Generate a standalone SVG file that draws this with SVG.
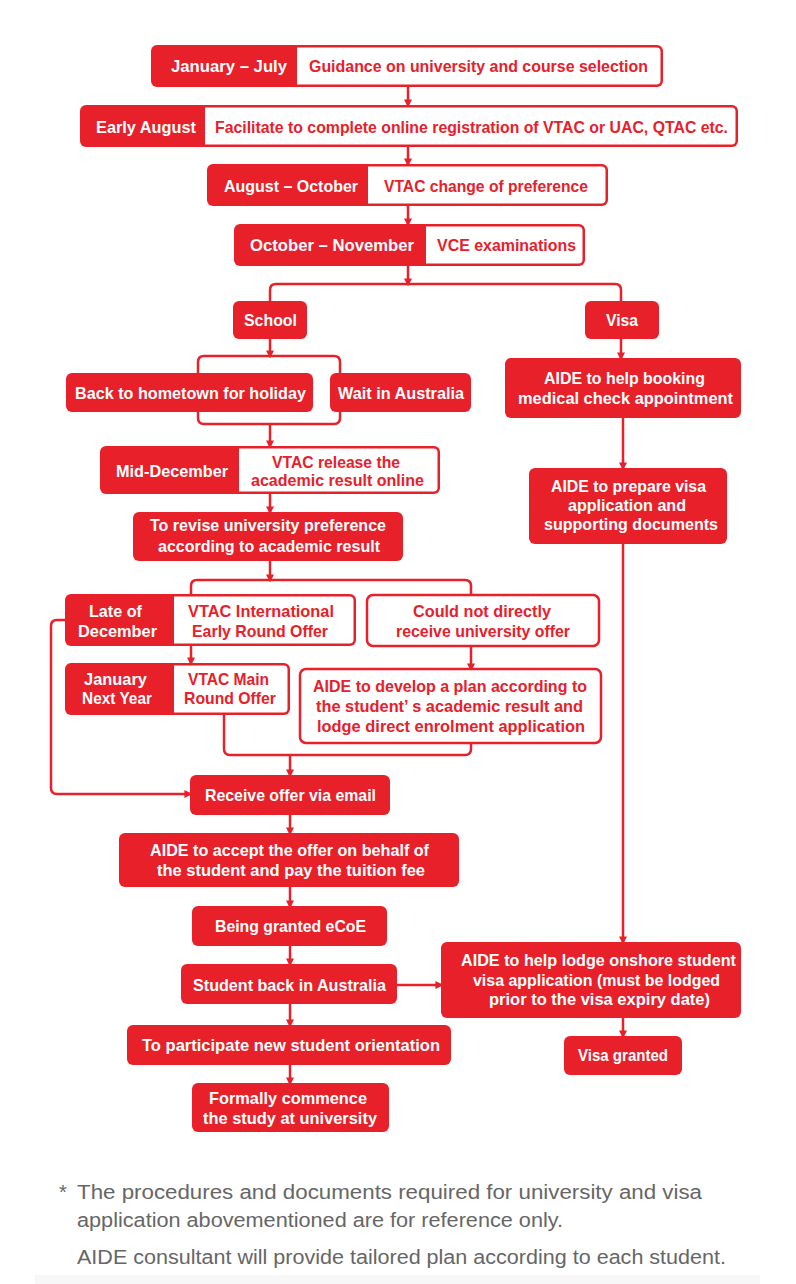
<svg xmlns="http://www.w3.org/2000/svg" width="796" height="1284" viewBox="0 0 796 1284">
<style>
.bx{fill:#e8202a}
.wb{fill:#fff}
.ob{fill:#fff;stroke:#e8202a;stroke-width:2.5}
text{font-family:"Liberation Sans",Arial,sans-serif;font-weight:bold;font-size:17px;text-anchor:middle}
.w{fill:#fff}
.r{fill:#e8202a}
.c{fill:none;stroke:#e8202a;stroke-width:2.5}
.a{marker-end:url(#ah)}
.f{font-weight:normal;font-size:20px;fill:#666;text-anchor:start}
</style>
<defs>
<marker id="ah" viewBox="0 0 10 10" refX="7" refY="5" markerWidth="8" markerHeight="10" markerUnits="userSpaceOnUse" orient="auto">
<path d="M0,0 L10,5 L0,10 Z" fill="#e8202a"/>
</marker>
</defs>
<rect width="796" height="1284" fill="#fff"/>

<g id="connectors">
<path class="c a" d="M408,87 V105"/>
<path class="c a" d="M408,147 V164"/>
<path class="c a" d="M408,206 V224"/>
<path class="c a" d="M408,266 V284"/>
<path class="c" d="M270,301 V290 Q270,284 276,284 H615 Q621,284 621,290 V301"/>
<path class="c a" d="M270,339 V356"/>
<path class="c" d="M198,373 V362 Q198,356 204,356 H334 Q340,356 340,362 V373"/>
<path class="c" d="M198,412 V418 Q198,424 204,424 H334 Q340,424 340,418 V412"/>
<path class="c a" d="M270,424 V446"/>
<path class="c a" d="M270,494 V512"/>
<path class="c a" d="M270,561 V580"/>
<path class="c" d="M191,594 V586 Q191,580 197,580 H465 Q471,580 471,586 V595"/>
<path class="c a" d="M191,646 V663"/>
<path class="c a" d="M471,646 V669"/>
<path class="c" d="M224,715 V749 Q224,755 230,755 H465 Q471,755 471,749 V743"/>
<path class="c a" d="M290,755 V775"/>
<path class="c a" d="M65,620 H57 Q51,620 51,626 V788 Q51,794 57,794 H190"/>
<path class="c a" d="M290,815 V833"/>
<path class="c a" d="M290,887 V906"/>
<path class="c a" d="M290,946 V964"/>
<path class="c a" d="M397,985 H441"/>
<path class="c a" d="M290,1004 V1025"/>
<path class="c a" d="M290,1065 V1083"/>
<path class="c a" d="M621,339 V358"/>
<path class="c a" d="M623,418 V468"/>
<path class="c a" d="M623,544 V942"/>
<path class="c a" d="M623,1018 V1036"/>
</g>

<g id="n-jan-jul">
<rect class="bx" x="151" y="45" width="512" height="42" rx="6"/>
<path class="wb" d="M297,47.5 H656.5 a4,4 0 0 1 4,4 V80.5 a4,4 0 0 1 -4,4 H297 Z"/>
<text class="w" x="229" y="72" textLength="116" lengthAdjust="spacingAndGlyphs">January – July</text>
<text class="r" x="478.5" y="72" textLength="339" lengthAdjust="spacingAndGlyphs">Guidance on university and course selection</text>
</g>

<g id="n-early-aug">
<rect class="bx" x="80" y="105" width="658" height="42" rx="6"/>
<path class="wb" d="M205,107.5 H731.5 a4,4 0 0 1 4,4 V140.5 a4,4 0 0 1 -4,4 H205 Z"/>
<text class="w" x="146" y="133" textLength="100" lengthAdjust="spacingAndGlyphs">Early August</text>
<text class="r" x="471.5" y="133" textLength="513" lengthAdjust="spacingAndGlyphs">Facilitate to complete online registration of VTAC or UAC, QTAC etc.</text>
</g>

<g id="n-aug-oct">
<rect class="bx" x="207" y="164" width="401" height="42" rx="6"/>
<path class="wb" d="M368,166.5 H601.5 a4,4 0 0 1 4,4 V199.5 a4,4 0 0 1 -4,4 H368 Z"/>
<text class="w" x="291" y="192" textLength="134" lengthAdjust="spacingAndGlyphs">August – October</text>
<text class="r" x="486" y="192" textLength="204" lengthAdjust="spacingAndGlyphs">VTAC change of preference</text>
</g>

<g id="n-oct-nov">
<rect class="bx" x="234" y="224" width="351" height="42" rx="6"/>
<path class="wb" d="M426,226.5 H578.5 a4,4 0 0 1 4,4 V259.5 a4,4 0 0 1 -4,4 H426 Z"/>
<text class="w" x="332" y="251" textLength="164" lengthAdjust="spacingAndGlyphs">October – November</text>
<text class="r" x="506.5" y="251" textLength="139" lengthAdjust="spacingAndGlyphs">VCE examinations</text>
</g>

<g id="n-school">
<rect class="bx" x="233" y="301" width="74" height="38" rx="6"/>
<text class="w" x="270.5" y="326" textLength="53" lengthAdjust="spacingAndGlyphs">School</text>
</g>

<g id="n-visa">
<rect class="bx" x="585" y="301" width="74" height="38" rx="6"/>
<text class="w" x="622" y="326" textLength="32" lengthAdjust="spacingAndGlyphs">Visa</text>
</g>

<g id="n-hometown">
<rect class="bx" x="66" y="373" width="247" height="39" rx="6"/>
<text class="w" x="190.5" y="399" textLength="231" lengthAdjust="spacingAndGlyphs">Back to hometown for holiday</text>
</g>

<g id="n-wait">
<rect class="bx" x="330" y="373" width="141" height="39" rx="6"/>
<text class="w" x="401" y="399" textLength="126" lengthAdjust="spacingAndGlyphs">Wait in Australia</text>
</g>

<g id="n-medical">
<rect class="bx" x="505" y="358" width="236" height="60" rx="6"/>
<text class="w" x="624.5" y="384" textLength="161" lengthAdjust="spacingAndGlyphs">AIDE to help booking</text>
<text class="w" x="625.5" y="404" textLength="215" lengthAdjust="spacingAndGlyphs">medical check appointment</text>
</g>

<g id="n-mid-dec">
<rect class="bx" x="100" y="446" width="340" height="48" rx="6"/>
<path class="wb" d="M239,448.5 H433.5 a4,4 0 0 1 4,4 V487.5 a4,4 0 0 1 -4,4 H239 Z"/>
<text class="w" x="172" y="477" textLength="112" lengthAdjust="spacingAndGlyphs">Mid-December</text>
<text class="r" x="336" y="468" textLength="128" lengthAdjust="spacingAndGlyphs">VTAC release the</text>
<text class="r" x="337.5" y="486" textLength="173" lengthAdjust="spacingAndGlyphs">academic result online</text>
</g>

<g id="n-revise">
<rect class="bx" x="133" y="512" width="270" height="49" rx="6"/>
<text class="w" x="268" y="531" textLength="236" lengthAdjust="spacingAndGlyphs">To revise university preference</text>
<text class="w" x="269" y="552" textLength="222" lengthAdjust="spacingAndGlyphs">according to academic result</text>
</g>

<g id="n-prepare">
<rect class="bx" x="529" y="468" width="198" height="76" rx="6"/>
<text class="w" x="628.5" y="492" textLength="155" lengthAdjust="spacingAndGlyphs">AIDE to prepare visa</text>
<text class="w" x="627" y="511" textLength="118" lengthAdjust="spacingAndGlyphs">application and</text>
<text class="w" x="631" y="530" textLength="174" lengthAdjust="spacingAndGlyphs">supporting documents</text>
</g>

<g id="n-late-dec">
<rect class="bx" x="65" y="594" width="291" height="52" rx="6"/>
<path class="wb" d="M174,596.5 H349.5 a4,4 0 0 1 4,4 V639.5 a4,4 0 0 1 -4,4 H174 Z"/>
<text class="w" x="115.5" y="617" textLength="53" lengthAdjust="spacingAndGlyphs">Late of</text>
<text class="w" x="117.5" y="637" textLength="79" lengthAdjust="spacingAndGlyphs">December</text>
<text class="r" x="261" y="617" textLength="146" lengthAdjust="spacingAndGlyphs">VTAC International</text>
<text class="r" x="260" y="637" textLength="136" lengthAdjust="spacingAndGlyphs">Early Round Offer</text>
</g>

<g id="n-could-not">
<rect class="ob" x="367" y="595" width="232" height="51" rx="6"/>
<text class="r" x="482" y="617" textLength="138" lengthAdjust="spacingAndGlyphs">Could not directly</text>
<text class="r" x="483" y="637" textLength="174" lengthAdjust="spacingAndGlyphs">receive university offer</text>
</g>

<g id="n-jan-next">
<rect class="bx" x="65" y="663" width="225" height="52" rx="6"/>
<path class="wb" d="M174,665.5 H283.5 a4,4 0 0 1 4,4 V708.5 a4,4 0 0 1 -4,4 H174 Z"/>
<text class="w" x="115.5" y="685" textLength="63" lengthAdjust="spacingAndGlyphs">January</text>
<text class="w" x="117" y="704" textLength="70" lengthAdjust="spacingAndGlyphs">Next Year</text>
<text class="r" x="228.5" y="685" textLength="81" lengthAdjust="spacingAndGlyphs">VTAC Main</text>
<text class="r" x="230" y="704" textLength="92" lengthAdjust="spacingAndGlyphs">Round Offer</text>
</g>

<g id="n-plan">
<rect class="ob" x="300" y="669" width="301" height="74" rx="6"/>
<text class="r" x="450" y="692" textLength="274" lengthAdjust="spacingAndGlyphs">AIDE to develop a plan according to</text>
<text class="r" x="449.5" y="712" textLength="267" lengthAdjust="spacingAndGlyphs">the student’ s academic result and</text>
<text class="r" x="451" y="732" textLength="268" lengthAdjust="spacingAndGlyphs">lodge direct enrolment application</text>
</g>

<g id="n-receive">
<rect class="bx" x="190" y="775" width="200" height="40" rx="6"/>
<text class="w" x="290.5" y="801" textLength="171" lengthAdjust="spacingAndGlyphs">Receive offer via email</text>
</g>

<g id="n-accept">
<rect class="bx" x="119" y="833" width="340" height="54" rx="6"/>
<text class="w" x="289.5" y="856" textLength="279" lengthAdjust="spacingAndGlyphs">AIDE to accept the offer on behalf of</text>
<text class="w" x="291" y="876" textLength="268" lengthAdjust="spacingAndGlyphs">the student and pay the tuition fee</text>
</g>

<g id="n-ecoe">
<rect class="bx" x="192" y="906" width="195" height="40" rx="6"/>
<text class="w" x="290.5" y="932" textLength="151" lengthAdjust="spacingAndGlyphs">Being granted eCoE</text>
</g>

<g id="n-back-aus">
<rect class="bx" x="181" y="964" width="216" height="40" rx="6"/>
<text class="w" x="289.5" y="991" textLength="193" lengthAdjust="spacingAndGlyphs">Student back in Australia</text>
</g>

<g id="n-lodge">
<rect class="bx" x="441" y="942" width="300" height="76" rx="6"/>
<text class="w" x="598.5" y="966" textLength="275" lengthAdjust="spacingAndGlyphs">AIDE to help lodge onshore student</text>
<text class="w" x="596.5" y="986" textLength="247" lengthAdjust="spacingAndGlyphs">visa application (must be lodged</text>
<text class="w" x="599.5" y="1005" textLength="221" lengthAdjust="spacingAndGlyphs">prior to the visa expiry date)</text>
</g>

<g id="n-orientation">
<rect class="bx" x="127" y="1025" width="324" height="40" rx="6"/>
<text class="w" x="291" y="1051" textLength="298" lengthAdjust="spacingAndGlyphs">To participate new student orientation</text>
</g>

<g id="n-commence">
<rect class="bx" x="192" y="1083" width="197" height="49" rx="6"/>
<text class="w" x="288" y="1104" textLength="158" lengthAdjust="spacingAndGlyphs">Formally commence</text>
<text class="w" x="290" y="1124" textLength="174" lengthAdjust="spacingAndGlyphs">the study at university</text>
</g>

<g id="n-visa-granted">
<rect class="bx" x="564" y="1036" width="118" height="39" rx="6"/>
<text class="w" x="623" y="1061" textLength="90" lengthAdjust="spacingAndGlyphs">Visa granted</text>
</g>

<g id="footer">
<rect x="35" y="1275" width="725" height="9" fill="#f7f7f7"/>
<text class="f" x="59" y="1199">*</text>
<text class="f" x="77" y="1199" textLength="625" lengthAdjust="spacingAndGlyphs">The procedures and documents required for university and visa</text>
<text class="f" x="77" y="1227" textLength="486" lengthAdjust="spacingAndGlyphs">application abovementioned are for reference only.</text>
<text class="f" x="77" y="1264" textLength="649" lengthAdjust="spacingAndGlyphs">AIDE consultant will provide tailored plan according to each student.</text>
</g>
</svg>
